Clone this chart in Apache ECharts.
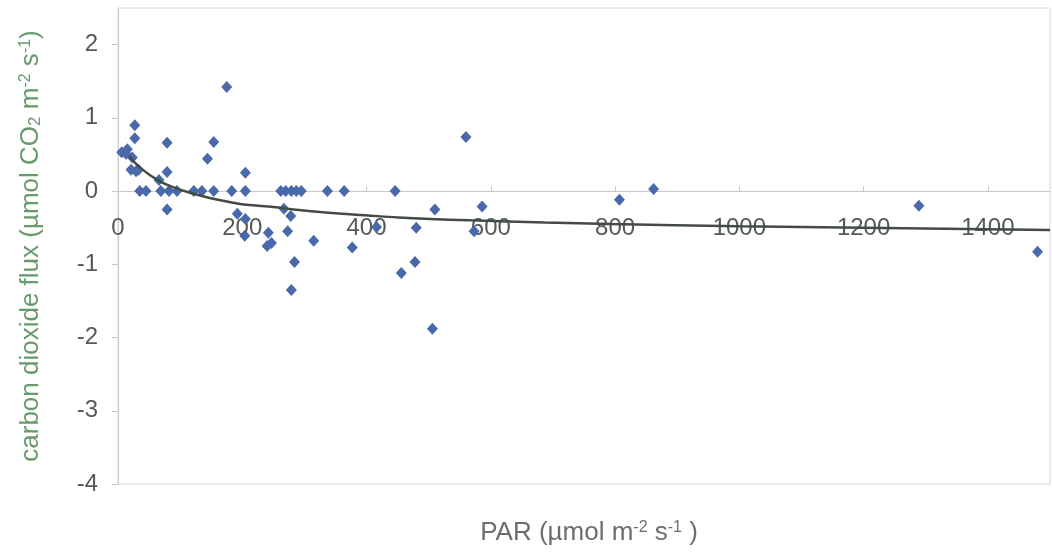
<!DOCTYPE html>
<html>
<head>
<meta charset="utf-8">
<script src="https://cdn.jsdelivr.net/npm/echarts@6/dist/echarts.min.js"></script>
<style>
  html, body { margin: 0; padding: 0; background: #ffffff; }
  #chart { width: 1052px; height: 552px; }
</style>
</head>
<body>
<div id="chart"></div>
<script>
// Observed CO2 flux against photosynthetically active radiation
const parObs = [
  6, 13, 15, 23, 27, 27, 21, 29, 33, 35, 45, 66, 79, 79, 69, 82, 79, 95, 122, 135,
  144, 154, 154, 175, 183, 205, 205, 192, 205, 204, 242, 240, 247, 262, 270, 279, 287, 295,
  267, 278, 273, 284, 279, 315, 337, 364, 446, 377, 416, 456, 478, 480, 510, 506,
  560, 586, 573, 807, 862, 1289, 1480
];
const fluxObs = [
  0.53, 0.51, 0.57, 0.46, 0.90, 0.72, 0.29, 0.27, 0.29, 0, 0, 0.15, 0.66, 0.26, 0, 0, -0.25, 0, 0, 0,
  0.44, 0.67, 0, 1.42, 0, 0.25, 0, -0.31, -0.38, -0.61, -0.57, -0.75, -0.71, 0, 0, 0, 0, 0,
  -0.24, -0.34, -0.55, -0.97, -1.35, -0.68, 0, 0, 0, -0.77, -0.49, -1.12, -0.97, -0.50, -0.25, -1.88,
  0.74, -0.21, -0.55, -0.12, 0.03, -0.20, -0.83
];

// Fitted response curve
const trendPar = [18, 37, 66, 93, 119, 146, 173, 199, 226, 254, 291, 344, 398, 451, 568, 687, 793, 1000, 1200, 1500];
const trendFlux = [0.48, 0.31, 0.14, 0.04, -0.03, -0.09, -0.14, -0.18, -0.20, -0.22, -0.26, -0.30, -0.33, -0.36, -0.40, -0.43, -0.45, -0.48, -0.50, -0.53];

// Axis ranges and tick spacing
const xRange = [0, 1500];
const xStep = 200;
const yRange = [-4, 2.5];
const yStep = 1;

const obsPoints = parObs.map((p, i) => [p, fluxObs[i]]);
const trendPoints = trendPar.map((p, i) => [p, trendFlux[i]]);

const FONT = 'Liberation Sans, Arial, sans-serif';
const axisGrey = '#c9c9c9';
const labelGrey = '#565a56';

// plot box geometry (px)
const W = 1052, H = 552;
const gridLeft = 118, gridRight = 2;
const gridTop = 8, gridBottom = 68;
const plotHeight = H - gridTop - gridBottom;
const plotCenterX = gridLeft + (W - gridLeft - gridRight) / 2;
// lift the PAR axis from the bottom edge up to the zero line
const zeroLift = plotHeight * (0 - yRange[0]) / (yRange[1] - yRange[0]);

const chart = echarts.init(document.getElementById('chart'));
chart.setOption({
  backgroundColor: '#ffffff',
  animation: false,
  title: {
    text: 'PAR (µmol m{sup|-2} s{sup|-1} )',
    left: plotCenterX,
    textAlign: 'center',
    bottom: 1,
    textStyle: {
      fontFamily: FONT,
      fontSize: 26,
      fontWeight: 'normal',
      color: '#6b6f6b',
      rich: {
        sup: { fontSize: 16, color: '#6b6f6b', verticalAlign: 'top', fontFamily: FONT }
      }
    }
  },
  grid: {
    left: gridLeft,
    right: gridRight,
    top: gridTop,
    bottom: gridBottom,
    show: true,
    borderColor: '#d6d6d6',
    borderWidth: 1,
    backgroundColor: 'transparent'
  },
  xAxis: {
    type: 'value',
    min: xRange[0],
    max: xRange[1],
    interval: xStep,
    position: 'bottom',
    offset: -zeroLift,
    axisLine: { show: true, onZero: false, lineStyle: { color: axisGrey, width: 1 } },
    axisTick: { show: true, inside: true, length: 5, lineStyle: { color: axisGrey } },
    axisLabel: {
      show: true,
      margin: 25,
      showMaxLabel: false,
      fontSize: 24,
      color: labelGrey,
      fontFamily: FONT,
      formatter: v => String(v)
    },
    splitLine: { show: false }
  },
  yAxis: {
    type: 'value',
    min: yRange[0],
    max: yRange[1],
    interval: yStep,
    name: 'carbon dioxide flux (µmol CO{sub|2} m{sup|-2} s{sup|-1})',
    nameLocation: 'middle',
    nameRotate: 90,
    nameGap: 74,
    nameTextStyle: {
      fontFamily: FONT,
      fontSize: 26,
      color: '#679a6c',
      rich: {
        sub: { fontSize: 17, color: '#679a6c', verticalAlign: 'bottom', fontFamily: FONT },
        sup: { fontSize: 16, color: '#679a6c', verticalAlign: 'top', fontFamily: FONT }
      }
    },
    axisLine: { show: true, lineStyle: { color: axisGrey, width: 1 } },
    axisTick: { show: true, inside: false, length: 6, lineStyle: { color: axisGrey } },
    axisLabel: {
      margin: 20,
      showMaxLabel: false,
      fontSize: 24,
      color: labelGrey,
      fontFamily: FONT,
      formatter: v => String(v)
    },
    splitLine: { show: false }
  },
  series: [
    {
      name: 'observed',
      type: 'scatter',
      data: obsPoints,
      symbol: 'diamond',
      symbolSize: [11, 12],
      itemStyle: { color: '#4a69aa', opacity: 1 },
      z: 3
    },
    {
      name: 'fit',
      type: 'line',
      data: trendPoints,
      showSymbol: false,
      symbol: 'none',
      smooth: 0.4,
      lineStyle: { color: '#434c43', width: 2.5 },
      z: 4
    }
  ]
});
</script>
</body>
</html>
